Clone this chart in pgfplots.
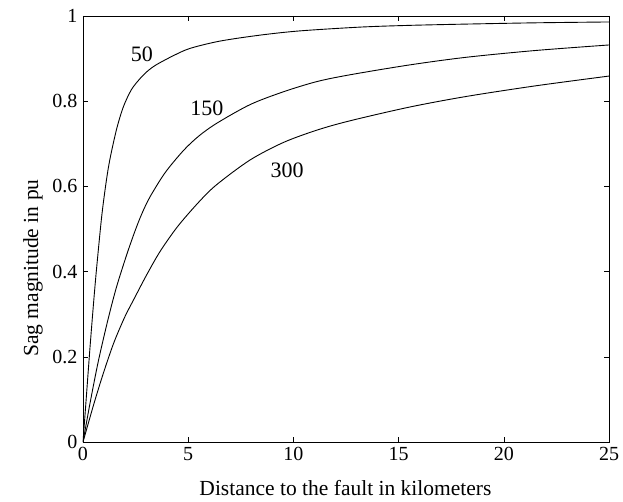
\documentclass[border=0pt]{standalone}
\usepackage{pgfplots}
\pgfplotsset{compat=1.18}
\usepackage{fontspec}
\setmainfont{Liberation Serif}
\begin{document}
\begin{tikzpicture}
\begin{axis}[
  scale only axis,
  width=526pt, height=426pt,
  xmin=0, xmax=25, ymin=0, ymax=1,
  xtick={0,5,10,15,20,25},
  ytick={0,0.2,0.4,0.6,0.8,1},
  yticklabels={0,0.2,0.4,0.6,0.8,1},
  tick align=inside,
  major tick length=5pt,
  tick style={black, line width=0.6pt},
  axis line style={line width=0.9pt},
  /pgf/number format/assume math mode=true,
  ticklabel style={font=\fontsize{20}{22}\selectfont},
  xticklabel style={yshift=-2pt},
  yticklabel style={xshift=-2pt},
  xlabel={Distance to the fault in kilometers},
  ylabel={Sag magnitude in pu},
  label style={font=\fontsize{21.5}{24}\selectfont},
  xlabel style={at={(axis description cs:0.499,-0.108)}, anchor=center},
  ylabel style={at={(axis description cs:-0.095,0.408)}, anchor=center},
]
\addplot[black, line width=0.9pt, smooth, tension=0.5, mark=none] coordinates {(0,0) (0.15,0.1) (0.33,0.22) (0.5,0.325) (0.65,0.41) (0.89,0.53) (1.1,0.61) (1.28,0.664) (1.6,0.735) (1.92,0.787) (2.3,0.827) (2.71,0.853) (3.1,0.872) (3.5,0.886) (4.3,0.907) (5.09,0.924) (6.5,0.941) (8.4,0.955) (10.3,0.965) (13.2,0.974) (15.5,0.978) (18.2,0.981) (21.5,0.984) (25,0.986)};
\addplot[black, line width=0.9pt, smooth, tension=0.5, mark=none] coordinates {(0,0) (0.33,0.09) (0.73,0.19) (1.2,0.29) (1.6,0.365) (2.08,0.44) (2.47,0.495) (2.79,0.535) (3.18,0.575) (3.9,0.632) (4.77,0.684) (5.5,0.718) (6.35,0.748) (7.94,0.792) (9.52,0.822) (11.11,0.846) (12.69,0.862) (15.5,0.885) (18.2,0.903) (21.5,0.919) (25,0.932)};
\addplot[black, line width=0.9pt, smooth, tension=0.5, mark=none] coordinates {(0,0) (0.49,0.085) (0.88,0.148) (1.2,0.196) (1.52,0.24) (2.0,0.295) (2.47,0.34) (3.0,0.39) (3.66,0.447) (4.5,0.506) (5.5,0.563) (6.35,0.604) (7.94,0.662) (9.52,0.703) (11.11,0.732) (12.69,0.754) (15.5,0.786) (18.2,0.811) (21.5,0.836) (25,0.859)};
\node[font=\fontsize{22}{24}\selectfont] at (axis cs:2.8,0.911) {50};
\node[font=\fontsize{22}{24}\selectfont] at (axis cs:5.89,0.784) {150};
\node[font=\fontsize{22}{24}\selectfont] at (axis cs:9.7,0.638) {300};
\end{axis}
\pgfresetboundingbox
\path (-83pt,-59pt) rectangle (540pt,442pt);
\end{tikzpicture}
\end{document}
